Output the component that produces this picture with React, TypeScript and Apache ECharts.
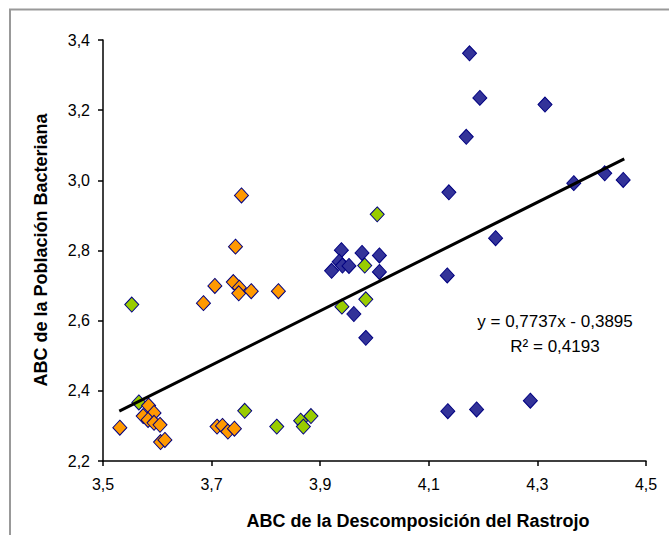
import React, { useEffect, useRef } from "react";
import * as echarts from "echarts";

// Series data: [x, y]
const blueSeries: number[][] = [
  [4.175, 3.362], [4.194, 3.235], [4.314, 3.216], [4.169, 3.124], [4.137, 2.966],
  [4.367, 2.992], [4.424, 3.02], [4.458, 3.001], [4.223, 2.835], [4.134, 2.729],
  [4.135, 2.342], [4.188, 2.347], [4.287, 2.372], [3.939, 2.801], [3.977, 2.793],
  [4.009, 2.786], [3.935, 2.768], [3.941, 2.757], [3.953, 2.756], [3.921, 2.742],
  [4.009, 2.739], [3.962, 2.619], [3.984, 2.551],
];
const greenSeries: number[][] = [
  [4.005, 2.903], [3.982, 2.757], [3.984, 2.661], [3.94, 2.64], [3.553, 2.646],
  [3.566, 2.367], [3.761, 2.343], [3.82, 2.298], [3.864, 2.315], [3.869, 2.298],
  [3.883, 2.328],
];
const orangeSeries: number[][] = [
  [3.755, 2.957], [3.744, 2.811], [3.706, 2.699], [3.74, 2.71], [3.751, 2.694],
  [3.75, 2.678], [3.773, 2.684], [3.823, 2.684], [3.685, 2.65], [3.584, 2.358],
  [3.594, 2.337], [3.574, 2.328], [3.583, 2.317], [3.594, 2.309], [3.605, 2.303],
  [3.531, 2.295], [3.606, 2.254], [3.614, 2.26], [3.71, 2.298], [3.72, 2.3],
  [3.73, 2.284], [3.742, 2.292],
];
const trendLine: number[][] = [[3.53, 2.342], [4.46, 3.061]];
const equationText = "y = 0,7737x - 0,3895";
const r2Text = "R² = 0,4193";
const xTitle = "ABC de la Descomposición del Rastrojo";
const yTitle = "ABC de la Población Bacteriana";

const FONT = "Arial, 'Liberation Sans', sans-serif";
const fmt = (v: number) => v.toFixed(1).replace(".", ",");

export default function App() {
  const ref = useRef<HTMLDivElement>(null);
  useEffect(() => {
    if (!ref.current) return;
    const chart = echarts.init(ref.current, undefined, { renderer: "svg" });
    const scatterStyle = (color: string) => ({
      type: "scatter" as const,
      symbol: "diamond",
      symbolSize: [14, 15],
      itemStyle: { color, borderColor: "#000080", borderWidth: 1, opacity: 1 },
      z: 3,
    });
    chart.setOption({
      animation: false,
      backgroundColor: "#ffffff",
      grid: { left: 103, right: 23, top: 40, bottom: 74 },
      xAxis: {
        type: "value",
        min: 3.5,
        max: 4.5,
        interval: 0.2,
        axisLine: { show: true, lineStyle: { color: "#000", width: 1.5 } },
        axisTick: { show: true, inside: false, length: 5, lineStyle: { color: "#000", width: 1.5 } },
        splitLine: { show: false },
        axisLabel: { color: "#000", fontSize: 16, fontFamily: FONT, margin: 15, formatter: fmt },
      },
      yAxis: {
        type: "value",
        min: 2.2,
        max: 3.4,
        interval: 0.2,
        axisLine: { show: true, lineStyle: { color: "#000", width: 1.5 } },
        axisTick: { show: true, inside: false, length: 5, lineStyle: { color: "#000", width: 1.5 } },
        splitLine: { show: false },
        axisLabel: { color: "#000", fontSize: 16, fontFamily: FONT, margin: 13, formatter: fmt },
      },
      series: [
        { ...scatterStyle("#333399"), data: blueSeries },
        { ...scatterStyle("#99CC00"), data: greenSeries },
        { ...scatterStyle("#FF9900"), data: orangeSeries },
        {
          type: "line",
          data: trendLine,
          symbol: "none",
          lineStyle: { color: "#000", width: 3 },
          z: 4,
          silent: true,
        },
      ],
      graphic: [
        {
          type: "rect",
          shape: { x: 10, y: 9.5, width: 720, height: 600 },
          style: { fill: "none", stroke: "#999999", lineWidth: 2 },
          silent: true,
        },
        {
          type: "text",
          x: 418,
          y: 521,
          style: {
            text: xTitle,
            font: `bold 18px ${FONT}`,
            fill: "#000",
            align: "center",
            verticalAlign: "middle",
          },
        },
        {
          type: "text",
          x: 41,
          y: 250,
          rotation: Math.PI / 2,
          style: {
            text: yTitle,
            font: `bold 18px ${FONT}`,
            fill: "#000",
            align: "center",
            verticalAlign: "middle",
          },
        },
        {
          type: "text",
          x: 555,
          y: 321,
          style: {
            text: equationText,
            font: `17px ${FONT}`,
            fill: "#000",
            align: "center",
            verticalAlign: "middle",
          },
        },
        {
          type: "text",
          x: 555,
          y: 346,
          style: {
            text: r2Text,
            font: `17px ${FONT}`,
            fill: "#000",
            align: "center",
            verticalAlign: "middle",
          },
        },
      ],
    });
    return () => chart.dispose();
  }, []);
  return (
    <div
      ref={ref}
      style={{ position: "fixed", left: 0, top: 0, width: 669, height: 535, background: "#fff" }}
    />
  );
}
